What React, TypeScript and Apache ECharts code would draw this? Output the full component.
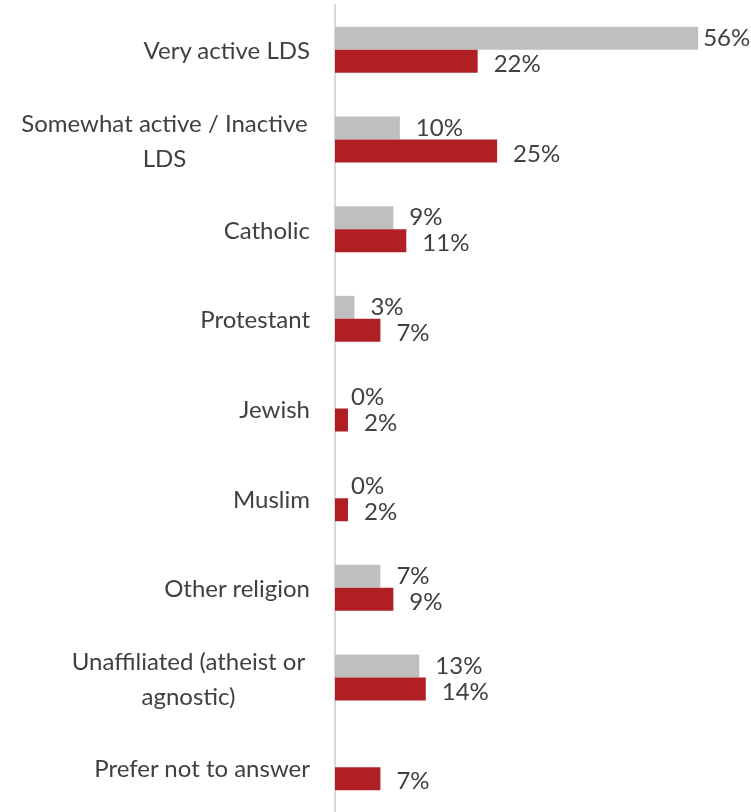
import React, { useEffect, useRef } from "react";
import * as echarts from "echarts";

const categories: string[] = [
  "Very active LDS",
  "Somewhat active / Inactive\nLDS",
  "Catholic",
  "Protestant",
  "Jewish",
  "Muslim",
  "Other religion",
  "Unaffiliated (atheist or\nagnostic)",
  "Prefer not to answer",
];
const grayValues: (number | null)[] = [56, 10, 9, 3, 0, 0, 7, 13, null];
const redValues: (number | null)[] = [22, 25, 11, 7, 2, 2, 9, 14, 7];

const FONT = "Lato";
const FS = 24;
const TXT = "#404040";

export default function App() {
  const ref = useRef<HTMLDivElement>(null);
  useEffect(() => {
    if (!ref.current) return;
    const chart = echarts.init(ref.current, undefined, { renderer: "svg" });
    const wrapWidths: Record<string, number> = {
      "Somewhat active / Inactive\nLDS": 291,
      "Unaffiliated (atheist or\nagnostic)": 243,
    };
    const labelStyle = (dy: number) => ({
      show: true,
      position: "right" as const,
      distance: 16,
      offset: [0, dy],
      color: TXT,
      fontSize: FS,
      fontFamily: FONT,
      lineHeight: 22,
      formatter: (p: any) => `${p.value}%`,
    });
    chart.setOption({
      animation: false,
      grid: { left: 335, top: 5, height: 808, right: 1 },
      xAxis: {
        type: "value",
        min: 0,
        max: 64,
        show: false,
        splitLine: { show: false },
      },
      yAxis: {
        type: "category",
        inverse: true,
        data: categories,
        axisLine: { show: true, lineStyle: { color: "#d9d9d9", width: 2 } },
        axisTick: { show: false },
        axisLabel: {
          margin: 25,
          color: TXT,
          fontSize: FS,
          fontFamily: FONT,
          lineHeight: 35,
          formatter: (v: string) => {
            const w = wrapWidths[v];
            if (!w) return v;
            return v
              .split("\n")
              .map((s) => `{c${w}|${s}}`)
              .join("\n");
          },
          rich: {
            c291: { width: 291, align: "center", color: TXT, fontSize: FS, fontFamily: FONT, lineHeight: 35 },
            c243: { width: 243, align: "center", color: TXT, fontSize: FS, fontFamily: FONT, lineHeight: 35 },
          },
        },
      },
      series: [
        {
          type: "bar",
          barWidth: 23,
          barGap: "0%",
          itemStyle: { color: "#bfbfbf" },
          label: labelStyle(-2),
          data: grayValues.map((v, i) =>
            i === 0 ? { value: v, label: { distance: 5 } } : v
          ),
        },
        {
          type: "bar",
          barWidth: 23,
          barGap: "0%",
          itemStyle: { color: "#b01f24" },
          label: labelStyle(1),
          data: redValues,
        },
      ],
    });
    return () => chart.dispose();
  }, []);
  return (
    <div
      ref={ref}
      style={{ position: "fixed", left: 0, top: 0, width: 751, height: 812 }}
    />
  );
}
